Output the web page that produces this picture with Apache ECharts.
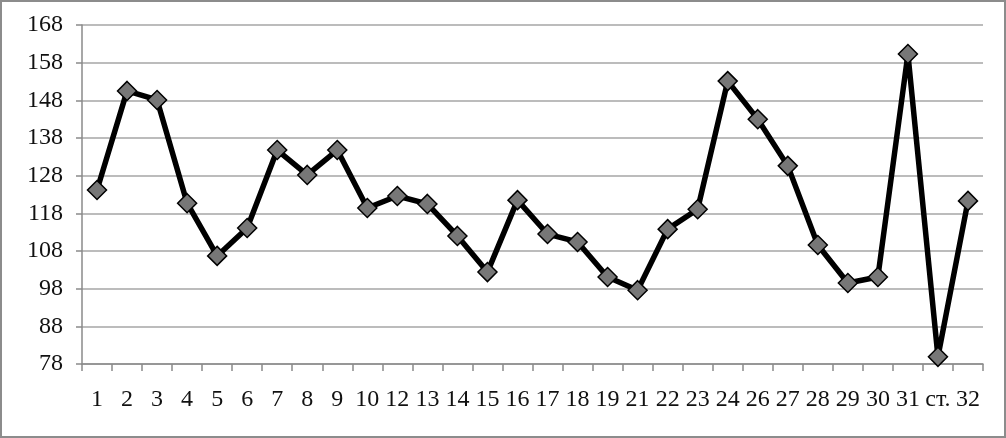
<!DOCTYPE html>
<html>
<head>
<meta charset="utf-8">
<script src="https://cdn.jsdelivr.net/npm/echarts@6/dist/echarts.min.js"></script>
<style>
  html, body { margin: 0; padding: 0; background: #fff; }
  #chart { width: 1006px; height: 438px; box-sizing: border-box; border: 2px solid #8c8c8c; }
</style>
</head>
<body>
<div id="chart"></div>
<script>
// categories along the x axis
const categories = ['1', '2', '3', '4', '5', '6', '7', '8', '9', '10', '12', '13', '14', '15', '16',
  '17', '18', '19', '21', '22', '23', '24', '26', '27', '28', '29', '30', '31', 'ст.', '32'];

// values
const values = [124.2, 150.5, 148.1, 120.7, 106.7, 114.1, 134.8, 128.2, 134.8, 119.4,
  122.6, 120.5, 112.0, 102.4, 121.5, 112.5, 110.4, 101.1, 97.6, 113.8,
  119.1, 153.1, 143.0, 130.6, 109.6, 99.5, 101.1, 160.3, 79.9, 121.3];

const yMin = 78;
const yMax = 168;
const yStep = 10;

const chart = echarts.init(document.getElementById('chart'));

const option = {
  backgroundColor: '#fff',
  animation: false,
  grid: {
    left: 80,
    right: 21,
    top: 23,
    bottom: 72
  },
  xAxis: {
    type: 'category',
    data: categories,
    boundaryGap: true,
    axisLine: { lineStyle: { color: '#8a8a8a', width: 1.5 } },
    axisTick: { show: true, alignWithLabel: false, length: 7, lineStyle: { color: '#8a8a8a', width: 1.5 } },
    axisLabel: {
      color: '#111',
      fontFamily: 'Liberation Serif',
      fontSize: 24,
      margin: 24,
      interval: 0
    },
    splitLine: { show: false }
  },
  yAxis: {
    type: 'value',
    min: yMin,
    max: yMax,
    interval: yStep,
    axisLine: { show: true, lineStyle: { color: '#8a8a8a', width: 1.5 } },
    axisTick: { show: true, length: 6, lineStyle: { color: '#8a8a8a', width: 1.5 } },
    axisLabel: {
      color: '#111',
      fontFamily: 'Liberation Serif',
      fontSize: 24,
      margin: 19
    },
    splitLine: { lineStyle: { color: '#a6a6a6', width: 1.5 } }
  },
  series: [
    {
      type: 'line',
      data: values,
      symbol: 'diamond',
      symbolSize: 19,
      lineStyle: { color: '#000', width: 5.5 },
      itemStyle: { color: '#777', borderColor: '#000', borderWidth: 1.5 },
      z: 3
    }
  ]
};

chart.setOption(option);
</script>
</body>
</html>
